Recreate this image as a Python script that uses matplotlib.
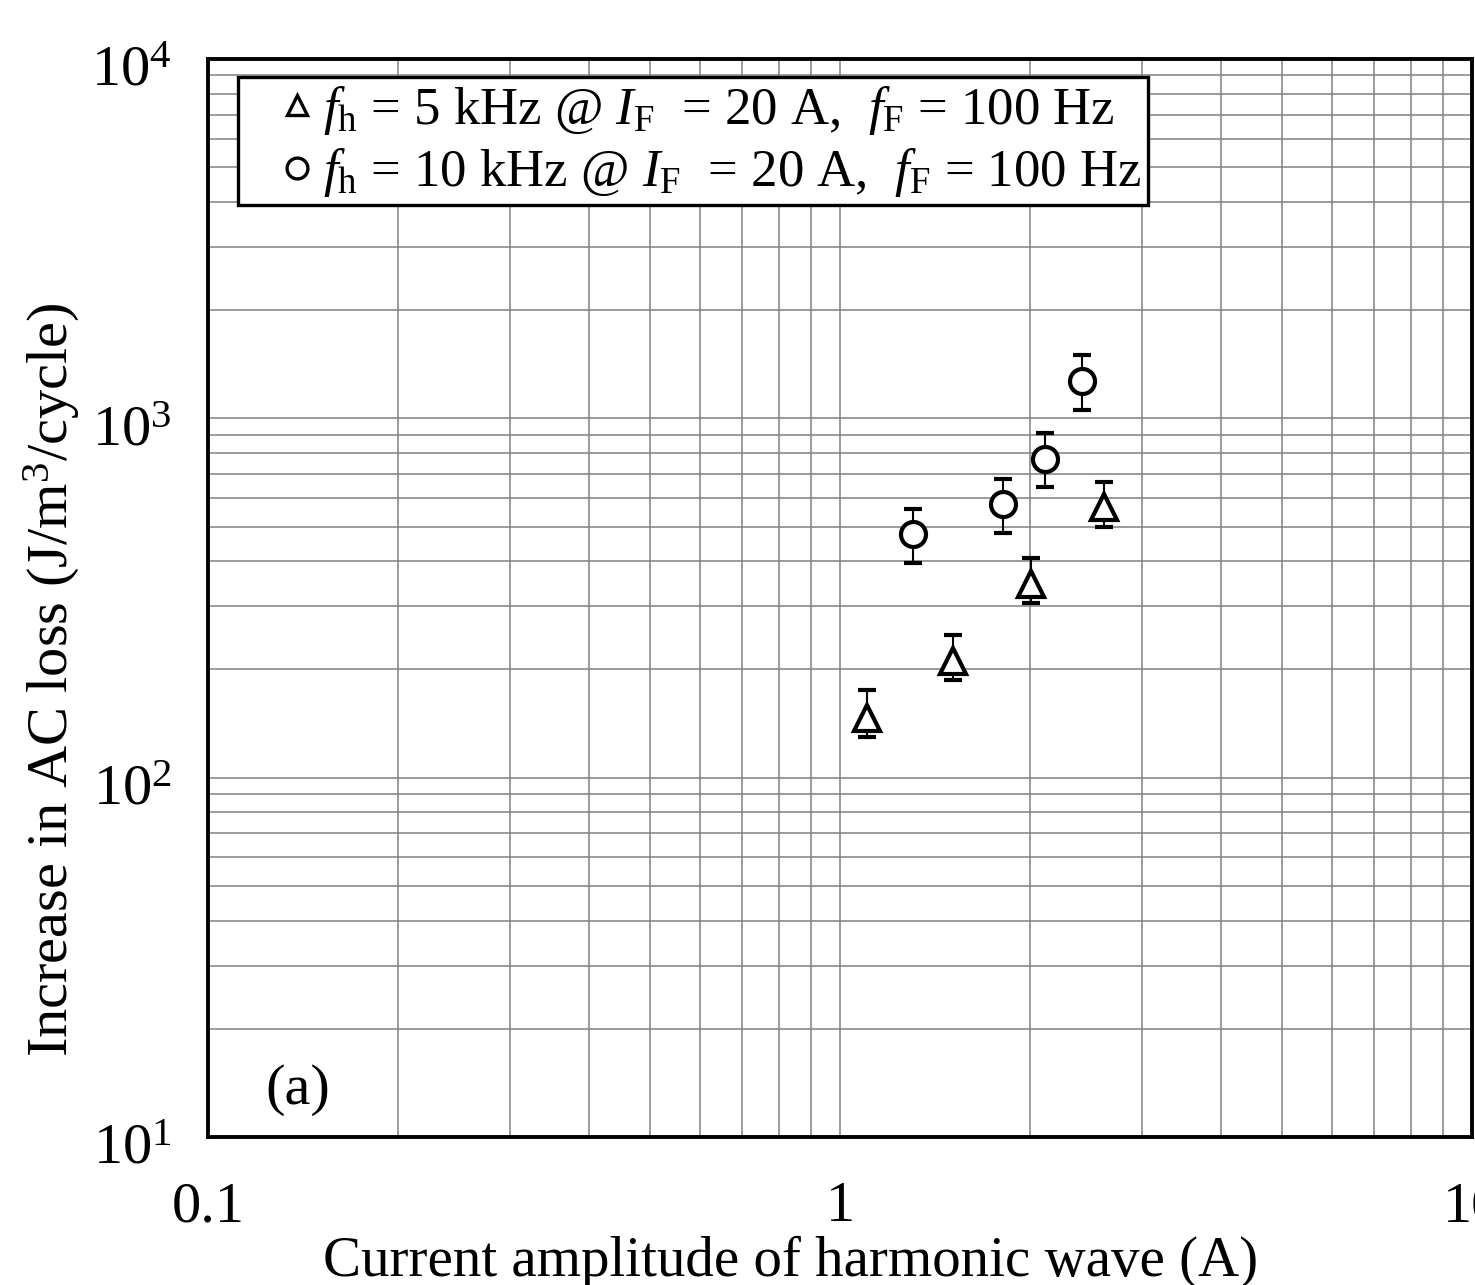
import matplotlib
matplotlib.use("Agg")
import matplotlib.pyplot as plt
from matplotlib.lines import Line2D
from matplotlib.ticker import LogLocator, FixedLocator, FixedFormatter, NullFormatter
import matplotlib.transforms as mtransforms
import numpy as np

plt.rcParams['font.family'] = ['Liberation Serif', 'DejaVu Serif']
plt.rcParams['mathtext.fontset'] = 'custom'
plt.rcParams['mathtext.rm'] = 'Liberation Serif'
plt.rcParams['mathtext.it'] = 'Liberation Serif:italic'

# Data: 5 kHz (triangles)
x5 = [1.105, 1.507, 2.007, 2.617]
y5 = [147, 211, 347, 565]
y5_lo = [130, 187, 307, 500]
y5_hi = [175, 249, 408, 667]

# Data: 10 kHz (circles)
x10 = [1.306, 1.809, 2.111, 2.417]
y10 = [477, 579, 773, 1271]
y10_lo = [395, 479, 643, 1057]
y10_hi = [560, 679, 908, 1496]

xticks = [0.1, 1, 10]
xticklabels = ['0.1', '1', '10']

label5 = r"$f_{\mathrm{h}}$ = 5 kHz @ $I_{\mathrm{F}}$  = 20 A,  $f_{\mathrm{F}}$ = 100 Hz"
label10 = r"$f_{\mathrm{h}}$ = 10 kHz @ $I_{\mathrm{F}}$  = 20 A,  $f_{\mathrm{F}}$ = 100 Hz"

W, H = 1475, 1285
fig = plt.figure(figsize=(W / 100, H / 100), dpi=100)
ax = fig.add_axes([208 / W, (H - 1137) / H, (1472 - 208) / W, (1137 - 59) / H])

ax.set_xscale('log')
ax.set_yscale('log')
ax.set_xlim(0.1, 10)
ax.set_ylim(10, 1e4)

gridkw = dict(color='#808080', linewidth=1.1)
ax.grid(True, which='both', **gridkw)
ax.set_axisbelow(True)

def errs(y, lo, hi):
    y = np.array(y); lo = np.array(lo); hi = np.array(hi)
    return np.vstack([y - lo, hi - y])

ebkw = dict(ls='none', ecolor='black', elinewidth=1.5, capsize=6.5, capthick=1.5,
            mfc='white', mec='black', mew=3.0, zorder=3)
ax.errorbar(x5, y5, yerr=errs(y5, y5_lo, y5_hi), fmt='^', ms=18.5, **ebkw)
ax.errorbar(x10, y10, yerr=errs(y10, y10_lo, y10_hi), fmt='o', ms=18, **ebkw)

ax.xaxis.set_major_locator(FixedLocator(xticks))
ax.xaxis.set_major_formatter(FixedFormatter(xticklabels))
ax.xaxis.set_minor_formatter(NullFormatter())
ax.yaxis.set_major_locator(LogLocator(base=10, numticks=10))
ax.yaxis.set_minor_locator(LogLocator(base=10, subs=np.arange(2, 10), numticks=20))
ax.yaxis.set_minor_formatter(NullFormatter())
ax.tick_params(which='both', length=0)
ax.tick_params(axis='x', labelsize=42, pad=32)
ax.tick_params(axis='y', labelsize=42, pad=26)

# shift y tick labels slightly down (digits centred on the tick)
offset = mtransforms.ScaledTranslation(0, -7 / 100, fig.dpi_scale_trans)
for lab in ax.get_yticklabels():
    lab.set_transform(lab.get_transform() + offset)

for s in ax.spines.values():
    s.set_linewidth(2.8)
    s.set_color('black')
    s.set_zorder(5)

ax.set_xlabel('Current amplitude of harmonic wave (A)', fontsize=41)
ax.xaxis.set_label_coords(0.461, -0.091)
ax.set_ylabel('Increase in AC loss (J/m$^3$/cycle)', fontsize=42)
ax.yaxis.set_label_coords(-0.0997, 0.424)

ax.text(0.045, 0.044, '(a)', transform=ax.transAxes, fontsize=42, ha='left', va='center')

handles = [Line2D([], [], ls='none', marker='^', ms=15, mfc='white', mec='black', mew=2.4),
           Line2D([], [], ls='none', marker='o', ms=15, mfc='white', mec='black', mew=2.4)]
leg = ax.legend(handles, [label5, label10], loc='upper left', bbox_to_anchor=(0.0237, 0.983),
                borderaxespad=0, fontsize=38, frameon=True, fancybox=False, framealpha=1,
                edgecolor='black', handlelength=2.0, handletextpad=-0.5, borderpad=0.12,
                labelspacing=0.18)
leg.get_frame().set_linewidth(2.4)

fig.savefig('out.png', dpi=100)
